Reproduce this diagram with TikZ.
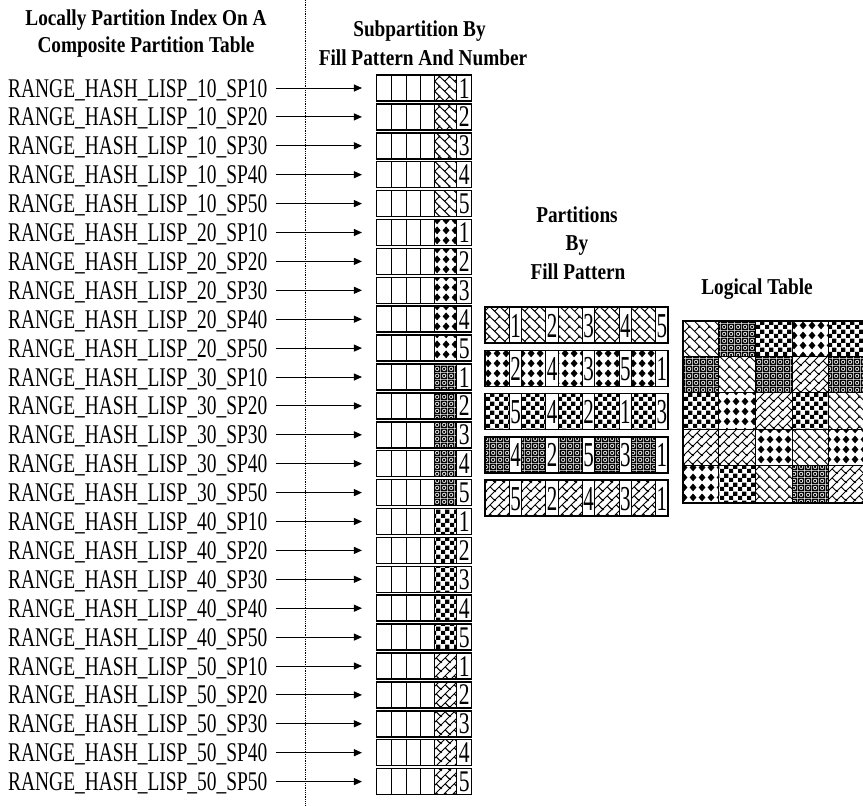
\documentclass[tikz,border=0pt]{standalone}
\usepackage{fontspec}
\setmainfont{Liberation Serif}
\usepackage{graphicx}
\usetikzlibrary{arrows.meta,patterns}

% checkerboard
\pgfdeclarepatternformonly{pck}{\pgfqpoint{0pt}{0pt}}{\pgfqpoint{9pt}{9pt}}{\pgfqpoint{9pt}{9pt}}{%
  \pgfpathrectangle{\pgfqpoint{0pt}{0pt}}{\pgfqpoint{4.5pt}{4.5pt}}%
  \pgfpathrectangle{\pgfqpoint{4.5pt}{4.5pt}}{\pgfqpoint{4.5pt}{4.5pt}}%
  \pgfusepath{fill}}
% diamonds
\pgfdeclarepatternformonly{pdm}{\pgfqpoint{0pt}{0pt}}{\pgfqpoint{8.5pt}{9.5pt}}{\pgfqpoint{8.5pt}{9.5pt}}{%
  \pgfpathmoveto{\pgfqpoint{4.25pt}{0.7pt}}\pgfpathlineto{\pgfqpoint{7.8pt}{4.75pt}}%
  \pgfpathlineto{\pgfqpoint{4.25pt}{8.8pt}}\pgfpathlineto{\pgfqpoint{0.7pt}{4.75pt}}%
  \pgfpathclose\pgfusepath{fill}}
% sphere
\pgfdeclarepatternformonly{psp}{\pgfqpoint{0pt}{0pt}}{\pgfqpoint{7pt}{7pt}}{\pgfqpoint{7pt}{7pt}}{%
  \pgfpathrectangle{\pgfqpoint{0pt}{0pt}}{\pgfqpoint{7pt}{7pt}}%
  \pgfpathcircle{\pgfqpoint{3.5pt}{3.5pt}}{2.5pt}%
  \pgfpathcircle{\pgfqpoint{3.5pt}{3.5pt}}{1.5pt}%
  \pgfseteorule\pgfusepath{fill}}
% upward diagonal brick
\pgfdeclarepatternformonly{pbr}{\pgfqpoint{0pt}{0pt}}{\pgfqpoint{9pt}{9pt}}{\pgfqpoint{9pt}{9pt}}{%
  \pgfsetlinewidth{1pt}%
  \pgfpathmoveto{\pgfqpoint{-1pt}{-1pt}}\pgfpathlineto{\pgfqpoint{10pt}{10pt}}%
  \pgfpathmoveto{\pgfqpoint{-1pt}{8pt}}\pgfpathlineto{\pgfqpoint{1pt}{10pt}}%
  \pgfpathmoveto{\pgfqpoint{8pt}{-1pt}}\pgfpathlineto{\pgfqpoint{10pt}{1pt}}%
  \pgfpathmoveto{\pgfqpoint{4.5pt}{4.5pt}}\pgfpathlineto{\pgfqpoint{9.5pt}{-0.5pt}}%
  \pgfusepath{stroke}}
% weave (downward)
\pgfdeclarepatternformonly{pwv}{\pgfqpoint{0pt}{0pt}}{\pgfqpoint{10pt}{10pt}}{\pgfqpoint{10pt}{10pt}}{%
  \pgfsetlinewidth{1pt}%
  \pgfpathmoveto{\pgfqpoint{-1pt}{11pt}}\pgfpathlineto{\pgfqpoint{11pt}{-1pt}}%
  \pgfpathmoveto{\pgfqpoint{-1pt}{1pt}}\pgfpathlineto{\pgfqpoint{1pt}{-1pt}}%
  \pgfpathmoveto{\pgfqpoint{9pt}{11pt}}\pgfpathlineto{\pgfqpoint{11pt}{9pt}}%
  \pgfpathmoveto{\pgfqpoint{5pt}{5pt}}\pgfpathlineto{\pgfqpoint{10.5pt}{10.5pt}}%
  \pgfusepath{stroke}}

\begin{document}
\begin{tikzpicture}[x=1pt,y=-1pt,
  hdr/.style={font=\fontsize{22.7}{27}\selectfont\bfseries, anchor=base, inner sep=0pt},
  lab/.style={font=\fontsize{27}{30}\selectfont, anchor=base west, inner sep=0pt},
  arr/.style={line width=1pt, -{Triangle[length=8pt,width=7pt]}},
  subbox/.style={draw, line width=1.5pt, minimum width=95pt, minimum height=26pt, inner sep=0pt},
  dv/.style={line width=0.9pt},
  snum/.style={font=\fontsize{30}{30}\selectfont, anchor=base, inner sep=0pt},
  pnum/.style={font=\fontsize{35}{35}\selectfont, anchor=base, inner sep=0pt},
  pbox/.style={draw, line width=1.5pt, minimum width=183pt, minimum height=36pt, inner sep=0pt}]

\clip (0,0) rectangle (863,806);
\fill[white] (0,0) rectangle (863,806);

% headers
\node[hdr] (h1a) at (146,25.5) {\scalebox{0.85}[1]{Locally Partition Index On A}};
\node[hdr] (h1b) at (146,52.5) {\scalebox{0.85}[1]{Composite Partition Table}};
\node[hdr] (h2a) at (419.5,36.5) {\scalebox{0.85}[1]{Subpartition By}};
\node[hdr] (h2b) at (423,65.5) {\scalebox{0.85}[1]{Fill Pattern And Number}};
\node[hdr] (h3a) at (577,222.5) {\scalebox{0.85}[1]{Partitions}};
\node[hdr] (h3b) at (577,250.5) {\scalebox{0.85}[1]{By}};
\node[hdr] (h3c) at (578,279.5) {\scalebox{0.85}[1]{Fill Pattern}};
\node[hdr] (h4) at (757,294.5) {\scalebox{0.85}[1]{Logical Table}};

% dotted separator
\draw[densely dotted, line width=0.8pt] (305,0) -- (305,806);

% subpartitions
\foreach \pat [count=\g from 0] in {pwv,pdm,psp,pck,pbr} {
  \foreach \n in {1,...,5} {
    \pgfmathsetmacro\y{88+28.9*(\g*5+\n-1)}
    \pgfmathtruncatemacro\lisp{(\g+1)*10}
    \pgfmathtruncatemacro\spn{\n*10}
    \node[lab] (L\g\n) at (8,\y+9) {\scalebox{0.72}[1]{RANGE\_HASH\_LISP\_\lisp\_SP\spn}};
    \fill[pattern=\pat] (434.3,\y-13) rectangle (456.7,\y+13);
    \foreach \xx in {391,406,420.3,434.3,456.7}
      \draw[dv] (\xx,\y-13) -- (\xx,\y+13);
    \node[snum] (N\g\n) at (464.2,\y+10) {\scalebox{0.72}[1]{\n}};
    \node[subbox] (B\g\n) at (424.2,\y) {};
    \draw[arr] ([xshift=8pt]L\g\n.east |- B\g\n.west) -- ([xshift=-14pt]B\g\n.west);
  }
}

% partitions by fill pattern
\foreach \pat/\nums [count=\r from 0] in {pwv/{1,2,3,4,5},pdm/{2,4,3,5,1},pck/{5,4,2,1,3},psp/{4,2,5,3,1},pbr/{5,2,4,3,1}} {
  \pgfmathsetmacro\cy{325+43.3*\r}
  \foreach \k [count=\c from 0] in \nums {
    \pgfmathsetmacro\xa{485+36.6*\c}
    \fill[pattern=\pat] (\xa,\cy-18) rectangle (\xa+24.3,\cy+18);
    \draw[dv] (\xa,\cy-18) -- ++(0,36);
    \draw[dv] (\xa+24.3,\cy-18) -- ++(0,36);
    \node[pnum] (Q\r\c) at (\xa+30.5,\cy+12) {\scalebox{0.6}[1]{\k}};
  }
  \node[pbox] (P\r) at (576.5,\cy) {};
}

% logical table
\foreach \row [count=\r from 0] in {{pwv,psp,pck,pdm,pck},{psp,pwv,psp,pbr,psp},{pck,pdm,pbr,pck,pwv},{pbr,pbr,pdm,pwv,pdm},{pdm,pck,pwv,psp,pbr}} {
  \foreach \pat [count=\c from 0] in \row {
    \fill[pattern=\pat] (682+36.7*\c,320+36.4*\r) rectangle ++(36.7,36.4);
    \draw[dv] (682+36.7*\c,320+36.4*\r) rectangle ++(36.7,36.4);
  }
}
\node[draw, line width=1.8pt, minimum width=183.5pt, minimum height=182pt, inner sep=0pt, anchor=north west] (T) at (682,320) {};

\end{tikzpicture}
\end{document}
